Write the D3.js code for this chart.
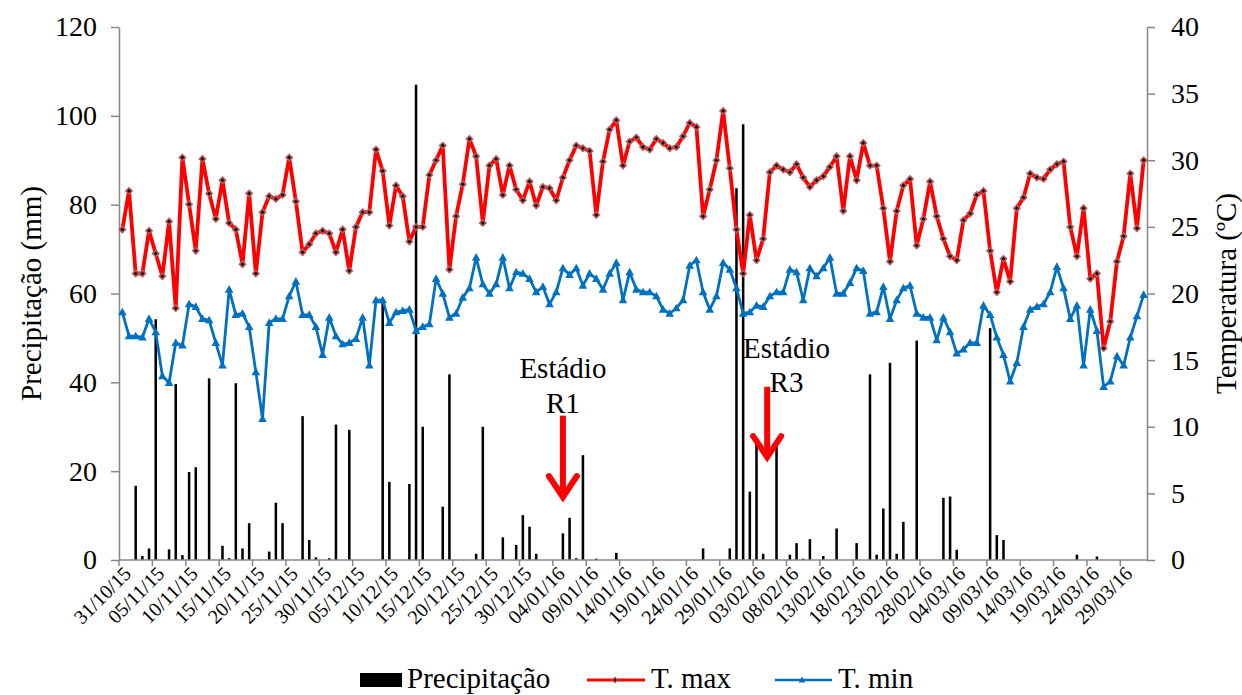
<!DOCTYPE html>
<html><head><meta charset="utf-8">
<script src="https://cdn.jsdelivr.net/npm/d3@7"></script>
<style>body{margin:0;background:#fff} text{font-family:"Liberation Serif","Times New Roman",serif;fill:#000}</style>
</head><body><svg id="c" width="1242" height="695"></svg>
<script>
const startDate = "2015-10-31";
const nDays = 154;
const tickLabels = ["31/10/15","05/11/15","10/11/15","15/11/15","20/11/15","25/11/15","30/11/15","05/12/15","10/12/15","15/12/15","20/12/15","25/12/15","30/12/15","04/01/16","09/01/16","14/01/16","19/01/16","24/01/16","29/01/16","03/02/16","08/02/16","13/02/16","18/02/16","23/02/16","28/02/16","04/03/16","09/03/16","14/03/16","19/03/16","24/03/16","29/03/16"];
const precipTicks = [0,20,40,60,80,100,120];
const tempTicks = [0,5,10,15,20,25,30,35,40];
const precipitation = [
0,0,16.7,0.9,2.6,54.2,0,2.4,39.6,1.1,
19.8,20.9,0,40.9,0,3.2,0.4,39.8,2.6,8.3,
0,0,1.9,12.9,8.3,0,0,32.4,4.5,0.6,
0,0.4,30.5,0,29.3,0,0,0,0,58.5,
17.6,0,0,17.1,107,30.0,0,0,12.0,41.8,
0,0,0,1.4,30.0,0,0,5.1,0,3.4,
10.1,7.5,1.4,0,0,0,6.0,9.5,0.4,23.6,
0,0.3,0,0,1.6,0,0,0,0,0,
0,0,0,0,0,0,0,2.6,0,0,
0,2.6,83.7,98.1,15.4,27.0,1.4,0,26.5,0,
1.2,3.8,0.3,4.7,0,0.9,0,7.1,0,0,
3.8,0,41.8,1.2,11.6,44.4,1.4,8.6,0,49.4,
0,0,0,14.0,14.3,2.3,0,0,0,0,
52.2,5.6,4.5,0,0,0,0,0,0,0,
0,0,0,1.2,0,0,0.8,0,0,0,
0,0,0,0];
const tMax = [
24.8,27.7,21.5,21.5,24.7,23.0,21.3,25.4,18.9,30.2,
26.7,23.2,30.1,27.5,25.6,28.5,25.3,24.8,22.2,27.5,
21.5,26.1,27.3,27.1,27.4,30.2,26.9,23.1,23.7,24.5,
24.7,24.5,23.1,24.8,21.7,25.0,26.1,26.1,30.8,29.2,
25.1,28.1,27.3,23.9,25.0,25.0,28.9,30.0,31.1,21.8,
25.8,28.2,31.6,30.3,25.3,29.6,30.1,27.4,29.6,27.8,
27.0,28.4,26.6,28.0,27.9,27.0,28.7,30.0,31.1,30.9,
30.7,25.9,29.9,32.3,33.0,29.6,31.4,31.7,31.0,30.8,
31.6,31.3,30.9,31.0,31.8,32.8,32.5,25.8,27.8,30.0,
33.7,29.4,24.8,21.5,25.9,22.5,24.1,29.1,29.6,29.3,
29.1,29.7,28.7,28.0,28.5,28.8,29.5,30.3,26.2,30.3,
28.5,31.3,29.6,29.6,26.4,22.4,26.2,28.1,28.6,23.6,
25.6,28.4,25.8,24.1,22.8,22.5,25.5,26.0,27.4,27.7,
23.2,20.1,22.6,20.9,26.4,27.2,29.0,28.7,28.6,29.3,
29.7,29.9,25.0,22.8,26.4,21.1,21.5,15.9,17.9,22.4,
24.3,29.0,24.9,30.0];
const tMin = [
18.6,16.8,16.8,16.7,18.1,17.1,13.8,13.3,16.3,16.1,
19.2,19.0,18.1,18.0,16.3,14.6,20.3,18.4,18.5,17.5,
14.1,10.6,17.8,18.1,18.1,19.8,20.9,18.4,18.4,17.5,
15.4,18.2,16.8,16.2,16.3,16.6,18.2,14.6,19.5,19.5,
17.8,18.6,18.7,18.8,17.2,17.5,17.7,21.1,20.0,18.2,
18.5,19.7,20.4,22.7,20.7,20.0,20.7,22.7,20.4,21.6,
21.5,21.1,20.1,20.5,19.2,20.1,21.9,21.4,21.9,20.6,
21.5,21.1,20.3,21.5,22.3,19.5,21.6,20.3,20.1,20.1,
19.8,18.8,18.5,18.9,19.5,22.1,22.5,20.1,18.8,19.8,
22.3,21.8,20.4,18.5,18.6,19.1,19.0,19.8,20.1,20.1,
21.8,21.6,19.5,21.9,21.3,21.9,22.7,20.0,20.0,20.8,
21.9,21.7,18.5,18.6,20.5,18.1,19.5,20.4,20.6,18.5,
18.2,18.2,16.5,18.2,17.1,15.5,15.8,16.3,16.3,19.1,
18.4,16.7,15.4,13.4,14.8,17.5,18.8,19.0,19.2,20.1,
22.0,20.4,18.1,19.1,14.6,18.8,17.2,13.0,13.4,15.3,
14.6,16.7,18.3,19.9];
const annotations = [
  {date:"05/01/16", label:["Estádio","R1"], top:32.5, tip:13.5},
  {date:"03/02/16", label:["Estádio","R3"], top:39, tip:22.5}
];

const svg = d3.select("#c");
const L = 119, R = 1147, T = 27, B = 560;
const fmt = d3.timeFormat("%d/%m/%y");
const start = d3.timeParse("%Y-%m-%d")(startDate);
const categories = d3.timeDay.range(start, d3.timeDay.offset(start, nDays)).map(fmt);

const x = d3.scaleBand().domain(categories).range([L, R]).paddingInner(0.62).paddingOuter(0.31);
const step = x.step();
const cx = c => x(c) + x.bandwidth() / 2;
const yP = d3.scaleLinear().domain([0, 120]).range([B, T]);
const yT = d3.scaleLinear().domain([0, 40]).range([B, T]);
const axisColor = "#878787";

// bars
svg.append("g").selectAll("rect").data(precipitation.map((v, i) => ({c: categories[i], v})).filter(d => d.v > 0))
  .join("rect").attr("x", d => x(d.c)).attr("width", x.bandwidth())
  .attr("y", d => yP(d.v)).attr("height", d => B - yP(d.v)).attr("fill", "#000");

// axes
const gl = svg.append("g").attr("transform", `translate(${L},0)`)
  .call(d3.axisLeft(yP).tickValues(precipTicks).tickSize(8).tickPadding(14).tickSizeOuter(0));
const gr = svg.append("g").attr("transform", `translate(${R},0)`)
  .call(d3.axisRight(yT).tickValues(tempTicks).tickSize(8).tickPadding(16).tickSizeOuter(0));
[gl, gr].forEach(g => {
  g.select(".domain").attr("stroke", axisColor).attr("stroke-width", 1.5);
  g.selectAll(".tick line").attr("stroke", axisColor).attr("stroke-width", 1.5);
  g.selectAll(".tick text").style("font-family", '"Liberation Serif",serif').style("font-size", "28px").attr("fill", "#000");
});

// bottom axis
svg.append("line").attr("x1", L).attr("x2", R).attr("y1", B).attr("y2", B).attr("stroke", axisColor).attr("stroke-width", 1.5);
const tickCats = categories.filter((c, i) => i % 5 === 0);
svg.append("g").selectAll("line").data(tickCats).join("line")
  .attr("x1", c => x(c) - (step - x.bandwidth()) / 2).attr("x2", c => x(c) - (step - x.bandwidth()) / 2)
  .attr("y1", B).attr("y2", B + 6).attr("stroke", axisColor).attr("stroke-width", 1.5);
svg.append("g").selectAll("text").data(tickLabels).join("text")
  .attr("transform", (t, i) => `translate(${cx(tickCats[i]) + 5},${B + 10}) rotate(-45)`)
  .attr("text-anchor", "end").attr("dy", "0.35em").style("font-size", "20px").text(t => t);

// lines
const lineGen = (arr, ys) => d3.line().x((d, i) => cx(categories[i])).y(d => ys(d))(arr);
svg.append("path").attr("d", lineGen(tMax, yT)).attr("fill", "none").attr("stroke", "#FF0000").attr("stroke-width", 3.8).attr("stroke-linejoin", "round");
svg.append("path").attr("d", lineGen(tMin, yT)).attr("fill", "none").attr("stroke", "#0070C0").attr("stroke-width", 2.8).attr("stroke-linejoin", "round");

const diamond = (r) => `M0,${-r}L${r},0L0,${r}L${-r},0Z`;
const tri = (r) => `M0,${-r}L${r*0.95},${r*0.7}L${-r*0.95},${r*0.7}Z`;
const gm = svg.append("g");
gm.selectAll(".dmx").data(tMax).join("path").attr("class", "dmx")
  .attr("transform", (d, i) => `translate(${cx(categories[i])},${yT(d)})`).attr("d", diamond(4.2)).attr("fill", "#c25555");
gm.selectAll(".dmi").data(tMax).join("path").attr("class", "dmi")
  .attr("transform", (d, i) => `translate(${cx(categories[i])},${yT(d)})`).attr("d", diamond(2)).attr("fill", "#111");
gm.selectAll(".tr").data(tMin).join("path").attr("class", "tr")
  .attr("transform", (d, i) => `translate(${cx(categories[i])},${yT(d)})`).attr("d", tri(4.5)).attr("fill", "#0070C0");

// axis titles
svg.append("text").attr("transform", `translate(31,${(T + B) / 2}) rotate(-90)`).attr("text-anchor", "middle")
  .attr("dy", "0.35em").style("font-size", "29px").text("Precipitação (mm)");
svg.append("text").attr("transform", `translate(1226,${(T + B) / 2}) rotate(-90)`).attr("text-anchor", "middle")
  .attr("dy", "0.35em").style("font-size", "29px").text("Temperatura (ºC)");

// annotations
const ga = svg.append("g");
const annX = [cx(annotations[0].date), cx(categories[96]) + step * 0.6];
const textX = [cx(annotations[0].date), cx(categories[96]) + step * 3.5];
const textY = [[378, 413], [358, 392]];
annotations.forEach((a, k) => {
  const ax = annX[k];
  ga.append("text").attr("x", textX[k]).attr("y", textY[k][0]).attr("text-anchor", "middle").style("font-size", "29px").text(a.label[0]);
  ga.append("text").attr("x", textX[k]).attr("y", textY[k][1]).attr("text-anchor", "middle").style("font-size", "29px").text(a.label[1]);
  const y0 = yP(a.top), y1 = yP(a.tip);
  ga.append("path").attr("d", `M${ax},${y0}L${ax},${y1 - 3}`).attr("stroke", "#FF0000").attr("stroke-width", 6).attr("fill", "none");
  ga.append("path").attr("d", `M${ax - 14},${y1 - 24}L${ax},${y1 - 3}L${ax + 14},${y1 - 24}`)
    .attr("stroke", "#FF0000").attr("stroke-width", 6).attr("fill", "none").attr("stroke-linejoin", "miter").attr("stroke-linecap", "round");
});

// legend
const lg = svg.append("g");
lg.append("rect").attr("x", 360).attr("y", 673).attr("width", 42).attr("height", 14).attr("fill", "#000");
lg.append("text").attr("x", 407).attr("y", 688).style("font-size", "29px").text("Precipitação");
lg.append("line").attr("x1", 587).attr("x2", 645).attr("y1", 680).attr("y2", 680).attr("stroke", "#FF0000").attr("stroke-width", 3.2);
lg.append("path").attr("transform", "translate(615,680)").attr("d", diamond(3.5)).attr("fill", "#c25555");
lg.append("path").attr("transform", "translate(615,680)").attr("d", diamond(1.8)).attr("fill", "#111");
lg.append("text").attr("x", 651).attr("y", 688).style("font-size", "29px").text("T. max");
lg.append("line").attr("x1", 775).attr("x2", 832).attr("y1", 680).attr("y2", 680).attr("stroke", "#0070C0").attr("stroke-width", 2.6);
lg.append("path").attr("transform", "translate(802,680)").attr("d", tri(3.5)).attr("fill", "#0070C0");
lg.append("text").attr("x", 838).attr("y", 688).style("font-size", "29px").text("T. min");
</script></body></html>
